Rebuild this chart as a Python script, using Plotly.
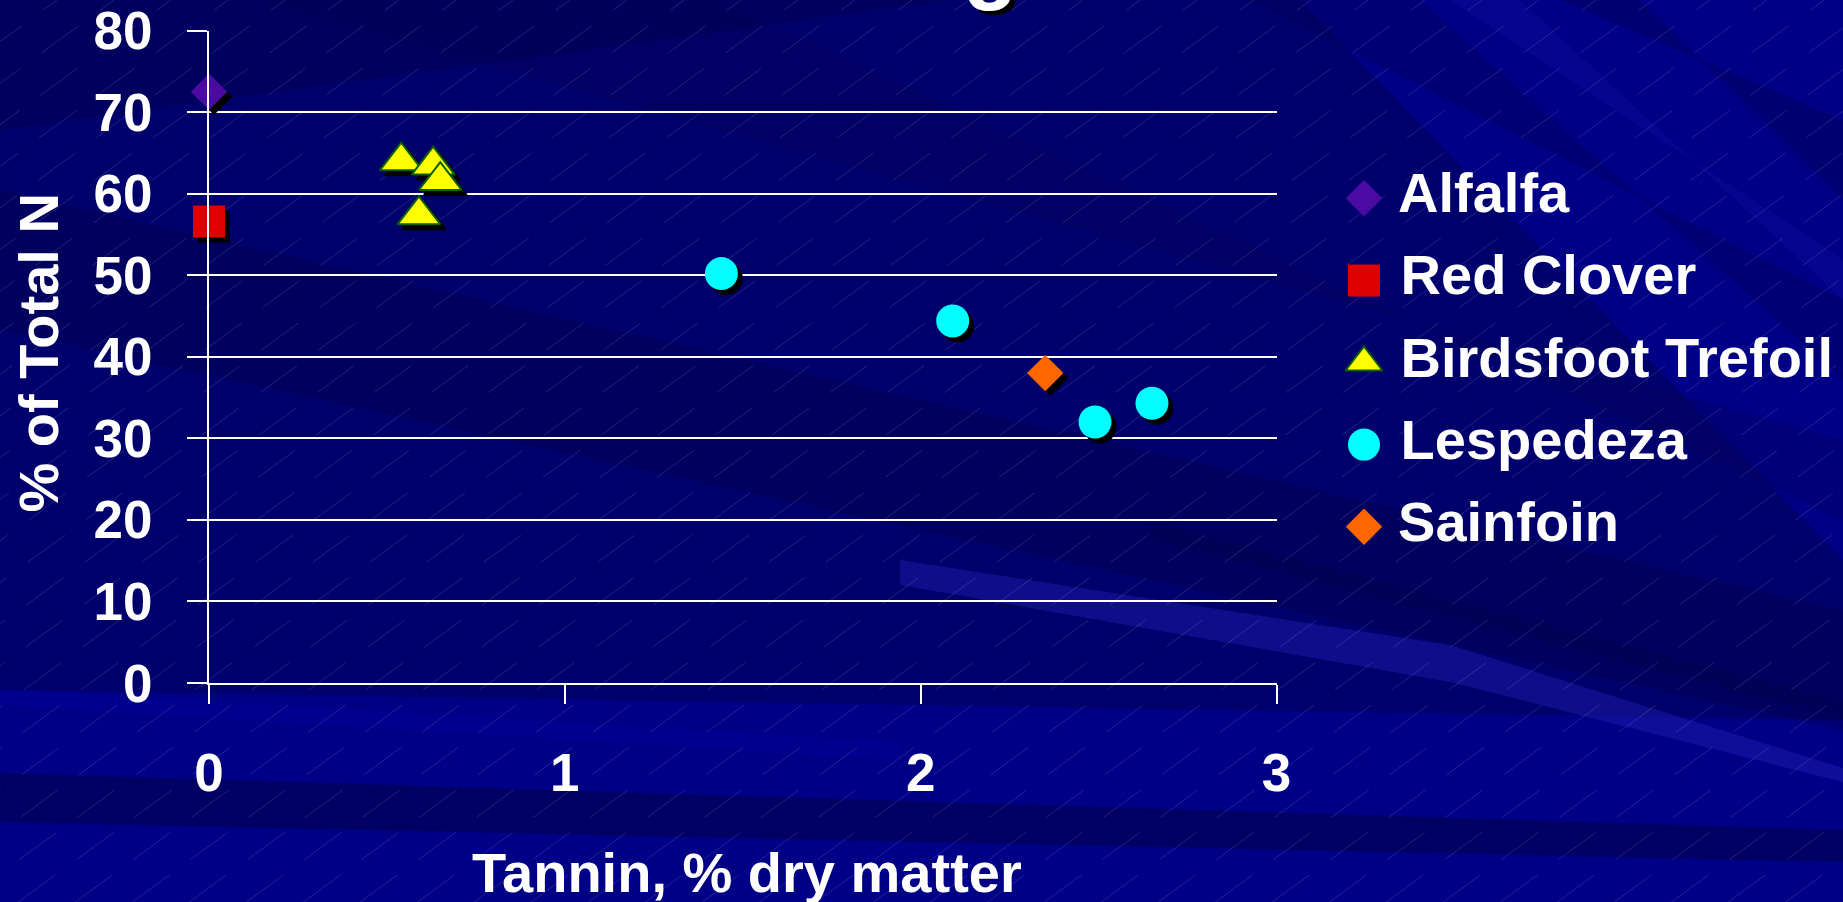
import plotly.graph_objects as go

# ---- data -------------------------------------------------------------
series_names = ["Alfalfa", "Red Clover", "Birdsfoot Trefoil", "Lespedeza", "Sainfoin"]

alfalfa_x = [0.0]
alfalfa_y = [72.5]
red_clover_x = [0.0]
red_clover_y = [56.6]
trefoil_x = [0.54, 0.63, 0.65, 0.59]
trefoil_y = [64.0, 63.5, 61.6, 57.4]
lespedeza_x = [1.44, 2.09, 2.49, 2.65]
lespedeza_y = [50.2, 44.4, 32.0, 34.3]
sainfoin_x = [2.35]
sainfoin_y = [38.0]

x_tick_vals = [0, 1, 2, 3]
y_tick_vals = [0, 10, 20, 30, 40, 50, 60, 70, 80]

x_title = "Tannin, % dry matter"
y_title = "% of Total N"

# ---- page geometry (pixels) -------------------------------------------
W, H = 1843, 902
PLOT_L, PLOT_R = 209.0, 1276.5
PLOT_T, PLOT_B = 30.6, 683.0
X_RANGE = [0, 3]
Y_RANGE = [0, 80]
SHADOW = 5  # drop-shadow offset in px

FONT = "Arial, Liberation Sans, sans-serif"


def fx(px):
    return px / W


def fy(py):
    return 1 - py / H


x_dom = [fx(PLOT_L), fx(PLOT_R)]
y_dom = [fy(PLOT_B), fy(PLOT_T)]
plot_w = PLOT_R - PLOT_L
plot_h = PLOT_B - PLOT_T
dx = SHADOW * (X_RANGE[1] - X_RANGE[0]) / plot_w
dy = SHADOW * (Y_RANGE[1] - Y_RANGE[0]) / plot_h

styles = {
    "Alfalfa": dict(symbol="diamond", size=28, color="#4B0BA3", line=dict(width=0)),
    "Red Clover": dict(symbol="square", size=32, color="#DD0000", line=dict(width=0)),
    "Birdsfoot Trefoil": dict(symbol="triangle-up", size=37, color="#FFFF00",
                              line=dict(width=2, color="#0B5E0B")),
    "Lespedeza": dict(symbol="circle", size=33, color="#00FFFF", line=dict(width=0)),
    "Sainfoin": dict(symbol="diamond", size=28, color="#FF6600", line=dict(width=0)),
}
series_xy = {
    "Alfalfa": (alfalfa_x, alfalfa_y),
    "Red Clover": (red_clover_x, red_clover_y),
    "Birdsfoot Trefoil": (trefoil_x, trefoil_y),
    "Lespedeza": (lespedeza_x, lespedeza_y),
    "Sainfoin": (sainfoin_x, sainfoin_y),
}

fig = go.Figure()

# base subplot that carries the visible axes and gridlines
fig.add_trace(go.Scatter(x=[], y=[], xaxis="x", yaxis="y", showlegend=False,
                         hoverinfo="skip"))

# drop shadows (shifted overlay axes)
for name in series_names:
    xs, ys = series_xy[name]
    st = styles[name]
    fig.add_trace(go.Scatter(
        x=xs, y=ys, mode="markers", xaxis="x2", yaxis="y2", showlegend=False,
        hoverinfo="skip", cliponaxis=False,
        marker=dict(symbol=st["symbol"], size=st["size"], color="#000000",
                    line=dict(width=st["line"]["width"], color="#000000")),
    ))

# data points
for name in series_names:
    xs, ys = series_xy[name]
    st = styles[name]
    fig.add_trace(go.Scatter(
        x=xs, y=ys, mode="markers", name=name, xaxis="x3", yaxis="y3",
        showlegend=False, cliponaxis=False,
        marker=dict(symbol=st["symbol"], size=st["size"], color=st["color"],
                    line=st["line"]),
    ))

# legend column (markers + labels)
LEG_MARK_X = 1364.0
LEG_ROW0 = 198.3
LEG_STEP = 82.1
leg_dom_x = [0.72, 1.0]
leg_w = (leg_dom_x[1] - leg_dom_x[0]) * W
leg_r0 = -(LEG_MARK_X - leg_dom_x[0] * W) / leg_w
leg_dom_y = [fy(LEG_ROW0 + 4.5 * LEG_STEP), fy(LEG_ROW0 - 0.5 * LEG_STEP)]
for name in series_names:
    st = styles[name]
    fig.add_trace(go.Scatter(
        x=[0], y=[name], mode="markers+text", text=["\u00a0" + name],
        textposition="middle right", xaxis="x4", yaxis="y4", showlegend=False,
        hoverinfo="skip", cliponaxis=False,
        textfont=dict(family=FONT, size=56, color="white", weight="bold"),
        marker=dict(symbol=st["symbol"], size=32 if st["symbol"] != "diamond" else 28,
                    color=st["color"], line=st["line"]),
    ))

# ---- background ---------------------------------------------------------
def poly(points, color, opacity):
    path = "M " + " L ".join(f"{fx(x):.5f},{fy(y):.5f}" for x, y in points) + " Z"
    return dict(type="path", path=path, xref="paper", yref="paper", layer="below",
                fillcolor=color, opacity=opacity, line=dict(width=0))


shapes = [
    # broad darker field over the left and centre
    poly([(0, 0), (1300, 0), (1843, 560), (1843, 720), (0, 690)], "#000040", 0.35),
    # darker top strip
    poly([(0, 0), (950, 0), (0, 130)], "#000040", 0.30),
    # dark diagonal bands sloping down to the right
    poly([(0, 190), (0, 330), (1843, 730), (1843, 610)], "#000040", 0.30),
    poly([(250, 0), (720, 0), (1843, 520), (1843, 440)], "#000048", 0.22),
    # rays in the upper right
    poly([(1250, 0), (1420, 0), (1843, 380), (1843, 300)], "#000050", 0.30),
    poly([(1560, 0), (1640, 0), (1843, 200), (1843, 120)], "#000050", 0.35),
    poly([(1450, 0), (1520, 0), (1843, 300), (1843, 260)], "#1010A8", 0.30),
    poly([(1150, 520), (1843, 700), (1843, 720), (1150, 540)], "#000050", 0.45),
    # pale streak lower right
    poly([(900, 560), (1450, 645), (1843, 768), (1843, 782), (1450, 682), (900, 585)],
         "#2424B8", 0.40),
    # pale streak below the axis and dark band near the bottom
    poly([(0, 689), (0, 705), (900, 760), (900, 742)], "#0000A0", 0.35),
    poly([(0, 773), (1843, 830), (1843, 862), (0, 822)], "#000048", 0.55),
]

# fine dashed diagonal hatching
slope = 0.73
step = 57
segs = []
c = -H / slope
while c < W + step:
    x0, y0 = c, H
    x1, y1 = c + H / slope, 0
    segs.append(f"M {fx(x0):.5f},{fy(y0):.5f} L {fx(x1):.5f},{fy(y1):.5f}")
    c += step
shapes.append(dict(type="path", path=" ".join(segs), xref="paper", yref="paper",
                   layer="below", line=dict(color="rgba(160,160,220,0.28)", width=0.8,
                                            dash="46px,26px")))

# ---- axes ---------------------------------------------------------------
tick_font = dict(family=FONT, size=53, color="white", weight="bold")
hidden = dict(visible=False, showgrid=False, zeroline=False, fixedrange=True)

fig.update_layout(
    width=W, height=H,
    margin=dict(l=0, r=0, t=0, b=0, autoexpand=False),
    paper_bgcolor="#000086",
    plot_bgcolor="rgba(0,0,0,0)",
    showlegend=False,
    shapes=shapes,
    xaxis=dict(domain=x_dom, range=X_RANGE, tickvals=x_tick_vals, ticks="outside",
               ticklen=19, tickwidth=2, tickcolor="white", showline=True,
               linecolor="white", linewidth=2, showgrid=False, zeroline=False,
               tickfont=tick_font, ticklabelstandoff=23, anchor="y", fixedrange=True,
               automargin=False),
    yaxis=dict(domain=y_dom, range=Y_RANGE, tickvals=y_tick_vals, ticks="outside",
               ticklen=20, tickwidth=2, tickcolor="white", showline=True,
               linecolor="white", linewidth=2, showgrid=True, gridcolor="white",
               gridwidth=2.4, zeroline=False, tickfont=tick_font, ticklabelstandoff=24,
               anchor="x", fixedrange=True, automargin=False),
    xaxis2=dict(hidden, overlaying="x", domain=x_dom,
                range=[X_RANGE[0] - dx, X_RANGE[1] - dx], anchor="y2"),
    yaxis2=dict(hidden, overlaying="y", domain=y_dom,
                range=[Y_RANGE[0] + dy, Y_RANGE[1] + dy], anchor="x2"),
    xaxis3=dict(hidden, overlaying="x", domain=x_dom, range=X_RANGE, anchor="y3"),
    yaxis3=dict(hidden, overlaying="y", domain=y_dom, range=Y_RANGE, anchor="x3"),
    xaxis4=dict(hidden, domain=leg_dom_x, range=[leg_r0, leg_r0 + 1], anchor="y4"),
    yaxis4=dict(hidden, domain=leg_dom_y, type="category",
                categoryorder="array", categoryarray=series_names,
                range=[4.5, -0.5], anchor="x4"),
    annotations=[
        dict(text=y_title, textangle=-90, x=fx(37.5), y=fy(353), xref="paper",
             yref="paper", showarrow=False, xanchor="center", yanchor="middle",
             font=dict(family=FONT, size=56, color="white", weight="bold")),
        dict(text=x_title, x=fx(746.5), y=fy(872), xref="paper", yref="paper",
             showarrow=False, xanchor="center", yanchor="middle",
             font=dict(family=FONT, size=56, color="white", weight="bold")),
        # tail of the slide heading above the chart
        dict(text="g", x=fx(995), y=fy(17), xref="paper", yref="paper",
             showarrow=False, xanchor="center", yanchor="bottom",
             font=dict(family=FONT, size=90, color="black", weight="bold")),
        dict(text="g", x=fx(991), y=fy(13), xref="paper", yref="paper",
             showarrow=False, xanchor="center", yanchor="bottom",
             font=dict(family=FONT, size=90, color="white", weight="bold")),
    ],
)

fig.write_html("out.html")
